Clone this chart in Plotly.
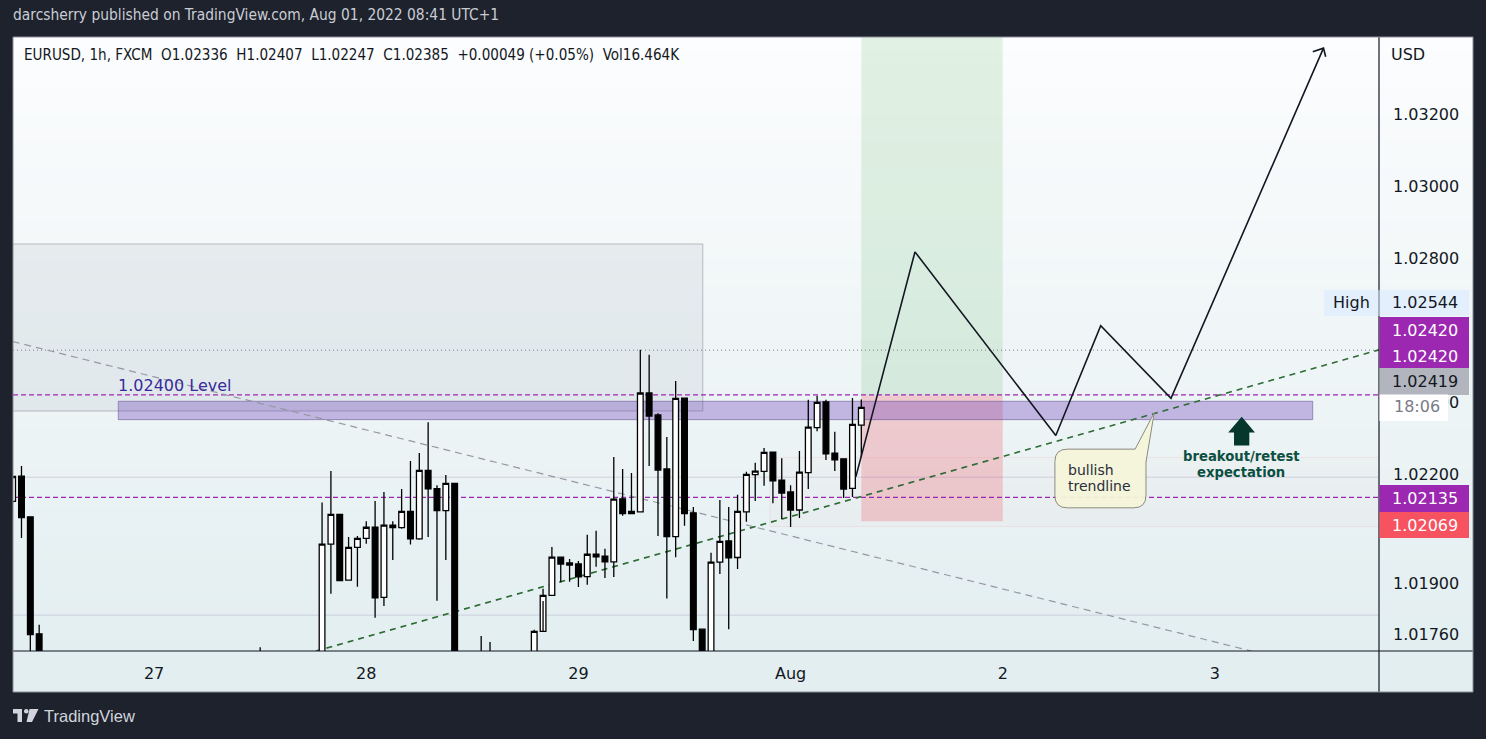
import plotly.graph_objects as go

W = 1486
H = 739

# bar index (0 = Jul 27 00:00), prices
bar = [-16, -15, -14, -13, 12, 19, 20, 21, 22, 23, 24, 25, 26, 27, 28, 29, 30, 31, 32, 33, 34, 37, 38,
       43, 44, 45, 46, 47, 48, 49, 50, 51, 52, 53, 54, 55, 56, 57, 58, 59, 60, 61, 62, 63,
       64, 65, 66, 67, 68, 69, 70, 71, 72, 73, 74, 75, 76, 77, 78, 79, 80]
opens = [1.02124, 1.02194, 1.02081, 1.01756, 1.0162, 1.0160, 1.02005, 1.02088, 1.01905, 1.01996, 1.02021,
         1.02052, 1.01857, 1.02058, 1.02051, 1.02096, 1.0202, 1.0221, 1.02159, 1.02098, 1.02174, 1.0165, 1.0165,
         1.0165, 1.01763, 1.01863, 1.01969, 1.01953, 1.0195, 1.01915, 1.01977, 1.01972, 1.01956, 1.02131, 1.0209,
         1.02095, 1.02425, 1.02364, 1.02214, 1.02026, 1.02411, 1.02092, 1.01769, 1.0163,
         1.01955, 1.02014, 1.01968, 1.02095, 1.02198, 1.02207, 1.02261, 1.02183, 1.0215, 1.021, 1.02204, 1.02329,
         1.024, 1.02258, 1.02242, 1.0216, 1.02336]
highs = [1.02195, 1.02222, 1.02081, 1.01781, 1.01719, 1.02121, 1.02208, 1.02088, 1.02025, 1.02028, 1.02069,
         1.02125, 1.0215, 1.02069, 1.02158, 1.02236, 1.02258, 1.02344, 1.02169, 1.02197, 1.02174, 1.0175, 1.01733,
         1.01767, 1.01881, 1.01997, 1.01969, 1.01964, 1.01958, 1.02031, 1.02042, 1.01992, 1.02247, 1.02214, 1.02203,
         1.02545, 1.02531, 1.02369, 1.02303, 1.02458, 1.02411, 1.02108, 1.01769, 1.01981,
         1.02128, 1.02108, 1.02142, 1.02206, 1.02231, 1.02272, 1.02261, 1.02244, 1.02169, 1.02264, 1.02406, 1.02417,
         1.02406, 1.02317, 1.02242, 1.02411, 1.02407]
lows = [1.0212, 1.02022, 1.0165, 1.0158, 1.0155, 1.0158, 1.01867, 1.01904, 1.01905, 1.01887, 1.02006,
        1.01801, 1.01833, 1.01961, 1.02048, 1.02004, 1.02017, 1.02025, 1.01848, 1.01961, 1.0158, 1.016, 1.016,
        1.0163, 1.01847, 1.01863, 1.01899, 1.01901, 1.01886, 1.01892, 1.01942, 1.01911, 1.01914, 1.02084, 1.0209,
        1.02095, 1.02222, 1.02028, 1.01854, 1.01969, 1.02056, 1.01736, 1.016, 1.016,
        1.01922, 1.01769, 1.01936, 1.02067, 1.02125, 1.02167, 1.02119, 1.02075, 1.02053, 1.02078, 1.02158, 1.02319,
        1.02239, 1.02208, 1.02133, 1.02136, 1.02247]
closes = [1.02193, 1.02079, 1.01754, 1.0160, 1.0165, 1.02005, 1.02088, 1.01904, 1.01996, 1.02021, 1.02052,
          1.01856, 1.02058, 1.02051, 1.02096, 1.0202, 1.0221, 1.02159, 1.02098, 1.02174, 1.0160, 1.0163, 1.0163,
          1.01763, 1.01863, 1.01969, 1.0195, 1.01947, 1.01914, 1.01977, 1.0197, 1.01956, 1.0213, 1.0209, 1.02096,
          1.02425, 1.02361, 1.02211, 1.02026, 1.0241, 1.0209, 1.01768, 1.0162, 1.01955,
          1.02013, 1.01967, 1.02096, 1.02199, 1.02208, 1.0226, 1.02181, 1.02147, 1.021, 1.02205, 1.0233, 1.02399,
          1.02256, 1.02239, 1.02158, 1.02338, 1.02385]

x_tickvals = [0, 24, 48, 72, 96, 120]
x_ticktext = ["27", "28", "29", "Aug", "2", "3"]
y_tickvals = [1.032, 1.03, 1.028, 1.024, 1.022, 1.01897, 1.01755]
y_ticktext = ["1.03200", "1.03000", "1.02800", "1.02400", "1.02200", "1.01900", "1.01760"]

# drawings
high_line = 1.02544
magenta_levels = [1.0242, 1.02135]
light_levels = [1.02191, 1.01808]
old_zone_x = [-20, 62.07]
old_zone_y = [1.02375, 1.02839]
level_zone_x = [-4.05, 131.06]
level_zone_y = [1.02351, 1.02402]
entry_x = [80, 96]
reward_y = [1.02419, 1.036]
risk_y = [1.02069, 1.02419]
faint_zone_x = [69.67, 145]
faint_zone_y = [1.02054, 1.02246]
down_trend_x = [-16, 124.3]
down_trend_y = [1.02568, 1.01707]
up_trend_x = [18.3, 138.56]
up_trend_y = [1.01708, 1.02545]
path_x = [79.38, 86.07, 102.0, 107.08, 115.03, 132.28]
path_y = [1.02192, 1.02817, 1.02307, 1.02612, 1.0241, 1.03383]
head_x = [131.07, 132.28, 132.53]
head_y = [1.03373, 1.03383, 1.03359]
arrow_x = [123.03, 124.53, 123.89, 123.89, 122.16, 122.16, 121.5, 123.03]
arrow_y = [1.02359, 1.02315, 1.02315, 1.02279, 1.02279, 1.02315, 1.02315, 1.02359]

x_range = [-15.96, 138.56]
y_range = [1.017083, 1.034139]


def px(x):
    return x / W


def py(y):
    return 1 - y / H


def panel_rect(x0, y0, x1, y1, fill, layer="above", line=None):
    return dict(type="rect", xref="paper", yref="paper", x0=px(x0), x1=px(x1), y0=py(y0), y1=py(y1),
                fillcolor=fill, line=dict(color=line or fill, width=1 if line else 0), layer=layer)


def data_rect(xs, ys, fill, line_color, width=1):
    return dict(type="rect", xref="x", yref="y", x0=xs[0], x1=xs[1], y0=ys[0], y1=ys[1],
                fillcolor=fill, line=dict(color=line_color, width=width), layer="below")


def data_line(xs, ys, color, dash, width=1.0):
    return dict(type="line", xref="x", yref="y", x0=xs[0], x1=xs[1], y0=ys[0], y1=ys[1],
                line=dict(color=color, width=width, dash=dash), layer="below")


def label(x, y, text, size=16, color="#131722", anchor="center", family="DejaVu Sans"):
    # annotations pad their text by about 2px, take that back for left aligned ones
    if anchor == "left":
        x = x - 2
    return dict(xref="paper", yref="paper", x=px(x), y=py(y), text=text, showarrow=False,
                xanchor=anchor, yanchor="middle", font=dict(family=family, size=size, color=color))


shapes = []

# panel background, top to bottom
steps = 50
for i in range(steps):
    t = i / (steps - 1)
    col = "rgb(%d,%d,%d)" % (252 - 26 * t, 253 - 15 * t, 254 - 14 * t)
    shapes.append(panel_rect(13, 37 + i * 655 / steps, 1473, 692, col, layer="below"))

shapes += [
    data_rect(faint_zone_x, faint_zone_y, "rgba(242,54,69,0.015)", "rgba(242,54,69,0.08)"),
    data_rect(old_zone_x, old_zone_y, "rgba(120,123,150,0.1)", "rgba(120,123,134,0.45)"),
    data_rect(entry_x, reward_y, "rgba(76,175,80,0.15)", "rgba(0,0,0,0)", 0),
    data_rect(entry_x, risk_y, "rgba(242,54,69,0.22)", "rgba(0,0,0,0)", 0),
    data_rect(level_zone_x, level_zone_y, "rgba(103,58,183,0.33)", "rgba(90,70,140,0.5)"),
    data_line(x_range, [high_line, high_line], "#787b86", "1px,3px"),
]
for level in magenta_levels:
    shapes.append(data_line(x_range, [level, level], "#9c27b0", "5px,3px", 1.3))
for level in light_levels:
    shapes.append(data_line(x_range, [level, level], "rgba(126,87,160,0.22)", "solid"))
shapes.append(data_line(down_trend_x, down_trend_y, "#9598a1", "7px,5px", 1.2))
shapes.append(data_line(up_trend_x, up_trend_y, "#2e6b34", "6px,5px", 1.6))

# callout around the "bullish trendline" note
cl, cr, ct, cb = 101.9, 112.2, 1.02269, 1.02106
rx, ry = 1.4, 0.00034
callout = (
    f"M{cl + rx},{ct} L110.97,{ct} L113.13,1.0237 L{cr},1.02233 L{cr},{cb + ry} Q{cr},{cb} {cr - rx},{cb} "
    f"L{cl + rx},{cb} Q{cl},{cb} {cl},{cb + ry} L{cl},{ct - ry} Q{cl},{ct} {cl + rx},{ct} Z"
)
shapes.append(dict(type="path", xref="x", yref="y", path=callout, fillcolor="rgba(245,244,218,0.95)",
                   line=dict(color="#8b8b80", width=1), layer="above"))

# axis strips, badges and frame
shapes += [
    dict(type="line", xref="paper", yref="paper", x0=px(13), x1=px(1473), y0=py(651), y1=py(651),
         line=dict(color="#131722", width=1.2), layer="above"),
    dict(type="line", xref="paper", yref="paper", x0=px(1379), x1=px(1379), y0=py(37), y1=py(692),
         line=dict(color="#131722", width=1.2), layer="above"),
    panel_rect(1324, 290, 1378.5, 316, "#e3effd"),
    panel_rect(1379.5, 290, 1469, 316, "#e3effd"),
    panel_rect(1379.5, 317, 1469, 343, "#9c27b0"),
    panel_rect(1379.5, 343, 1469, 368, "#9c27b0"),
    panel_rect(1379.5, 368, 1469, 395, "#b2b5be"),
    panel_rect(1379.5, 394.5, 1448, 421, "#ffffff"),
    panel_rect(1379.5, 485, 1469, 512, "#9c27b0"),
    panel_rect(1379.5, 512, 1469, 538, "#f7525f"),
    dict(type="rect", xref="paper", yref="paper", x0=px(13), x1=px(1473), y0=py(692), y1=py(37),
         line=dict(color="#8a8d96", width=1), layer="above"),
    # logo
    dict(type="path", xref="paper", yref="paper", fillcolor="#d1d4dc", line=dict(width=0), layer="above",
         path=f"M{px(13)},{py(709)} L{px(22)},{py(709)} L{px(22)},{py(722)} L{px(17.5)},{py(722)} "
              f"L{px(17.5)},{py(713.5)} L{px(13)},{py(713.5)} Z"),
    dict(type="circle", xref="paper", yref="paper", fillcolor="#d1d4dc", line=dict(width=0), layer="above",
         x0=px(24), x1=px(28.5), y0=py(713.5), y1=py(709)),
    dict(type="path", xref="paper", yref="paper", fillcolor="#d1d4dc", line=dict(width=0), layer="above",
         path=f"M{px(29.5)},{py(709)} L{px(38.5)},{py(709)} L{px(32)},{py(722)} L{px(26.5)},{py(722)} Z"),
]

annotations = [
    label(13, 15, "darcsherry published on TradingView.com, Aug 01, 2022 08:41 UTC+1", 15.4, "#c9ccd4", "left",
          "DejaVu Sans Condensed"),
    label(24, 55, "EURUSD, 1h, FXCM  O1.02336  H1.02407  L1.02247  C1.02385  +0.00049 (+0.05%)  Vol16.464K",
          15.07, "#131722", "left", "DejaVu Sans Condensed"),
    label(44, 716, "TradingView", 16.5, "#d1d4dc", "left", "Liberation Sans"),
    label(118, 385, "1.02400 Level", 16, "#392b9c", "left"),
    label(1068, 470, "bullish", 14, "#2a2e39", "left"),
    label(1068, 486, "trendline", 14, "#2a2e39", "left"),
    label(1241, 456, "<b>breakout/retest</b>", 13.2, "#0b4f42"),
    label(1241, 472, "<b>expectation</b>", 13.2, "#0b4f42"),
    label(1408, 55, "USD", 16),
    label(1351, 302, "High", 16),
    label(1425, 303, "1.02544", 16),
    label(1425, 330, "1.02420", 16, "#ffffff"),
    label(1425, 356, "1.02420", 16, "#ffffff"),
    label(1425, 381, "1.02419", 16),
    label(1417, 407, "18:06", 16, "#787b86"),
    label(1425, 498, "1.02135", 16, "#ffffff"),
    label(1425, 525, "1.02069", 16, "#ffffff"),
]

fig = go.Figure()

fig.add_trace(go.Candlestick(
    x=bar, open=opens, high=highs, low=lows, close=closes,
    increasing=dict(line=dict(color="#000000", width=1.3), fillcolor="#ffffff"),
    decreasing=dict(line=dict(color="#000000", width=1.3), fillcolor="#000000"),
    whiskerwidth=0,
))
fig.add_trace(go.Scatter(x=path_x, y=path_y, mode="lines", line=dict(color="#131722", width=1.6)))
fig.add_trace(go.Scatter(x=head_x, y=head_y, mode="lines", line=dict(color="#131722", width=1.6)))
fig.add_trace(go.Scatter(x=arrow_x, y=arrow_y, mode="lines", fill="toself", fillcolor="#05372c",
                         line=dict(color="#05372c", width=0)))

fig.update_layout(
    width=W,
    height=H,
    autosize=False,
    margin=dict(l=0, r=0, t=0, b=0),
    paper_bgcolor="#1e222d",
    plot_bgcolor="rgba(0,0,0,0)",
    showlegend=False,
    hovermode=False,
    boxgap=0.08,
    shapes=shapes,
    annotations=annotations,
    xaxis=dict(
        domain=[px(13), px(1379)], range=x_range, rangeslider=dict(visible=False), showgrid=False, zeroline=False,
        tickmode="array", tickvals=x_tickvals, ticktext=x_ticktext, ticks="", ticklabelstandoff=11,
        tickfont=dict(family="DejaVu Sans", size=16, color="#131722"),
    ),
    yaxis=dict(
        domain=[py(651), py(37)], range=y_range, side="right", showgrid=False, zeroline=False,
        tickmode="array", tickvals=y_tickvals, ticktext=y_ticktext, ticks="", ticklabelstandoff=13,
        tickfont=dict(family="DejaVu Sans", size=16, color="#131722"),
    ),
)

fig.write_html("out.html", config={"displayModeBar": False},
               post_script="document.body.style.margin='0';document.body.style.background='#1e222d';document.body.style.overflow='hidden';")
